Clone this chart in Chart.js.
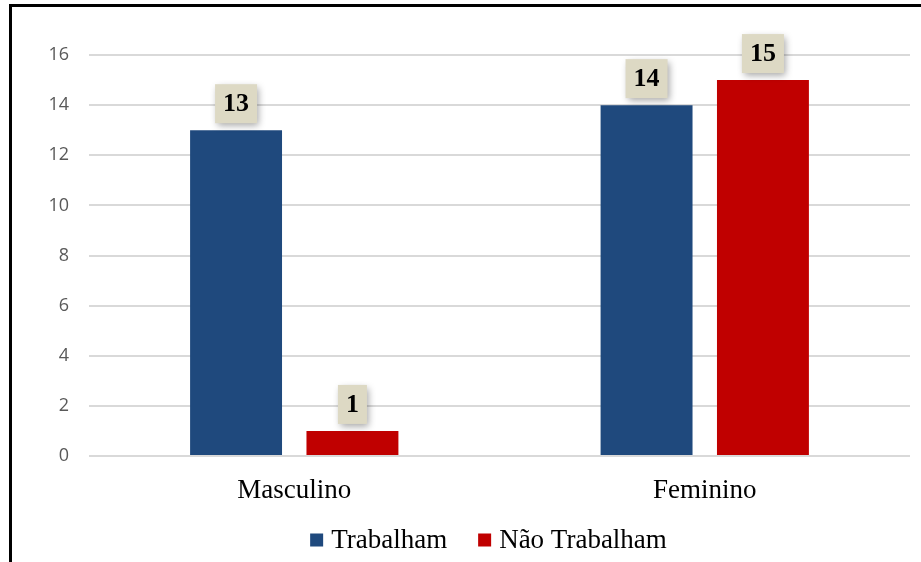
<!DOCTYPE html>
<html>
<head>
<meta charset="utf-8">
<script src="https://cdn.jsdelivr.net/npm/chart.js@4"></script>
<style>
  html, body { margin: 0; padding: 0; background: #fff; }
  #wrap { position: relative; width: 921px; height: 562px; }
</style>
</head>
<body>
<div id="wrap"><canvas id="bar-chart" width="921" height="562"></canvas></div>
<script>
  'use strict';
  // data
  var categories = ["Masculino", "Feminino"];
  var trabalham = [13, 14];
  var naoTrabalham = [1, 15];
  var seriesNames = ["Trabalham", "Não Trabalham"];
  var yTicks = [0, 2, 4, 6, 8, 10, 12, 14, 16];

  var serif = '"Liberation Serif", "Times New Roman", serif';

  // frame on the left and top edges
  var framePlugin = {
    id: 'frame',
    beforeDraw: function(chart) {
      var ctx = chart.ctx;
      ctx.save();
      ctx.fillStyle = '#fff';
      ctx.fillRect(0, 0, chart.width, chart.height);
      ctx.strokeStyle = '#000';
      ctx.lineWidth = 3;
      ctx.beginPath();
      ctx.moveTo(10.5, chart.height);
      ctx.lineTo(10.5, 5.5);
      ctx.lineTo(chart.width, 5.5);
      ctx.stroke();
      ctx.restore();
    }
  };

  // beige value boxes above bars
  var labelPlugin = {
    id: 'valueBoxes',
    afterDatasetsDraw: function(chart) {
      var ctx = chart.ctx;
      ctx.save();
      ctx.font = 'bold 26px ' + serif;
      chart.data.datasets.forEach(function(ds, i) {
        chart.getDatasetMeta(i).data.forEach(function(bar, j) {
          var txt = String(ds.data[j]);
          var w = ctx.measureText(txt).width + 16;
          var h = 39;
          var x = bar.x - w / 2;
          var y = bar.y - 7 - h;
          ctx.save();
          ctx.shadowColor = 'rgba(0,0,0,0.35)';
          ctx.shadowBlur = 7;
          ctx.shadowOffsetX = 2;
          ctx.shadowOffsetY = 3;
          ctx.fillStyle = '#DDD9C4';
          ctx.fillRect(x, y, w, h);
          ctx.restore();
          ctx.fillStyle = '#000';
          ctx.textAlign = 'center';
          ctx.textBaseline = 'middle';
          ctx.fillText(txt, bar.x, y + h / 2 + 1);
        });
      });
      ctx.restore();
    }
  };

  // legend at the bottom, tighter than the built-in one
  var legendPlugin = {
    id: 'bottomLegend',
    afterDraw: function(chart) {
      var ctx = chart.ctx;
      var box = 13, gapBox = 8, gapItem = 31, cy = 540;
      ctx.save();
      ctx.font = '27px ' + serif;
      var items = chart.data.datasets.map(function(ds) {
        return { text: ds.label, color: ds.backgroundColor, w: ctx.measureText(ds.label).width };
      });
      var total = 0;
      items.forEach(function(it, k) {
        total += box + gapBox + it.w + (k > 0 ? gapItem : 0);
      });
      var x = 488.5 - total / 2;
      ctx.textBaseline = 'middle';
      ctx.textAlign = 'left';
      items.forEach(function(it) {
        ctx.fillStyle = it.color;
        ctx.fillRect(x, cy - box / 2, box, box);
        x += box + gapBox;
        ctx.fillStyle = '#000';
        ctx.fillText(it.text, x, cy + 1);
        x += it.w + gapItem;
      });
      ctx.restore();
    }
  };

  var barChart = new Chart(document.getElementById("bar-chart"), {
    type: 'bar',
    data: {
      labels: categories,
      datasets: [
        {
          label: seriesNames[0],
          backgroundColor: "#1F497D",
          data: trabalham
        },
        {
          label: seriesNames[1],
          backgroundColor: "#C00000",
          data: naoTrabalham
        }
      ]
    },
    plugins: [framePlugin, labelPlugin, legendPlugin],
    options: {
      responsive: false,
      animation: false,
      categoryPercentage: 0.567,
      barPercentage: 0.79,
      layout: { padding: { left: 12, right: 11, top: 55, bottom: 0 } },
      plugins: {
        tooltip: { enabled: false },
        legend: { display: false }
      },
      scales: {
        x: {
          grid: { display: false },
          border: { display: false },
          afterFit: function(scale) { scale.height = 106; },
          ticks: {
            color: '#000',
            padding: 11,
            font: { family: serif, size: 27 }
          }
        },
        y: {
          min: 0,
          max: 16,
          afterBuildTicks: function(scale) {
            scale.ticks = yTicks.map(function(v) { return { value: v }; });
          },
          afterFit: function(scale) { scale.width = 77; },
          border: { display: false },
          grid: { color: '#D9D9D9', lineWidth: 2, drawTicks: false },
          ticks: {
            color: '#595959',
            padding: 20,
            font: { family: '"Open Sans", "Liberation Sans", sans-serif', size: 18 }
          }
        }
      }
    }
  });
</script>
</body>
</html>
